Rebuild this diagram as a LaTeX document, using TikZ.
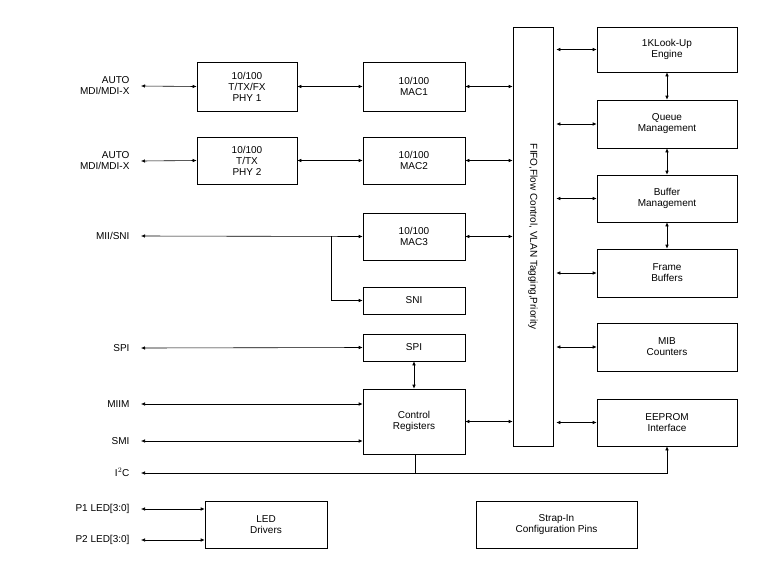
\documentclass[tikz,border=0pt]{standalone}
\usepackage{fontspec}
\setmainfont{Liberation Sans}
\usetikzlibrary{arrows.meta}

\begin{document}
\begin{tikzpicture}[x=1pt, y=-1pt,
  blk/.style={draw, line width=0.6pt, font=\fontsize{10}{11}\selectfont, align=center},
  lbl/.style={font=\fontsize{10}{11}\selectfont, align=right, anchor=east},
  bi/.style={{Latex[length=4pt,width=3.5pt]}-{Latex[length=4pt,width=3.5pt]}, line width=0.6pt},
  one/.style={-{Latex[length=4pt,width=3.5pt]}, line width=0.6pt}]
  \useasboundingbox (0,0) rectangle (781,563);
  % blocks
  \node[blk, minimum width=100pt, minimum height=49pt] (phy1) at (247,86.5) {10/100\\T/TX/FX\\PHY 1};
  \node[blk, minimum width=100pt, minimum height=47pt] (phy2) at (247,160.5) {10/100\\T/TX\\PHY 2};
  \node[blk, minimum width=102pt, minimum height=49pt] (mac1) at (414,86.5) {10/100\\MAC1};
  \node[blk, minimum width=102pt, minimum height=47pt] (mac2) at (414,160.5) {10/100\\MAC2};
  \node[blk, minimum width=102pt, minimum height=47pt] (mac3) at (414,236.5) {10/100\\MAC3};
  \node[blk, minimum width=102pt, minimum height=27pt] (sni) at (414,300.5) {SNI};
  \node[blk, minimum width=102pt, minimum height=27pt] (spi) at (414,347.5) {SPI};
  \node[blk, minimum width=102pt, minimum height=65pt] (ctrl) at (414,421.5) {Control\\Registers};
  \node[blk, minimum width=40pt, minimum height=419pt] (fifo) at (533,236.5) {};
  \node[font=\fontsize{10}{11}\selectfont, rotate=-90] at (fifo) {FIFO,Flow Control, VLAN Tagging,Priority};
  \node[blk, minimum width=140pt, minimum height=45pt] (lookup) at (667,49.5) {1KLook-Up\\Engine};
  \node[blk, minimum width=140pt, minimum height=48pt] (queue) at (667,124) {Queue\\Management};
  \node[blk, minimum width=140pt, minimum height=47pt] (buffer) at (667,198.5) {Buffer\\Management};
  \node[blk, minimum width=140pt, minimum height=48pt] (frame) at (667,273) {Frame\\Buffers};
  \node[blk, minimum width=140pt, minimum height=48pt] (mib) at (667,347) {MIB\\Counters};
  \node[blk, minimum width=140pt, minimum height=47pt] (eeprom) at (667,422.5) {EEPROM\\Interface};
  \node[blk, minimum width=122pt, minimum height=47pt] (led) at (266,524.5) {LED\\Drivers};
  \node[blk, minimum width=161pt, minimum height=47pt] (strap) at (556.5,524.5) {Strap-In\\Configuration Pins};
  % left labels
  \node[lbl] (auto1) at (133,86) {AUTO\\MDI/MDI-X};
  \node[lbl] (auto2) at (133,161) {AUTO\\MDI/MDI-X};
  \node[lbl] (mii) at (133,236) {MII/SNI};
  \node[lbl] (spil) at (133,348) {SPI};
  \node[lbl] (miim) at (133,404) {MIIM};
  \node[lbl] (smi) at (133,441) {SMI};
  \node[lbl] (i2c) at (133,472) {I$^2$C};
  \node[lbl] (p1) at (133,509) {P1 LED[3:0]};
  \node[lbl] (p2) at (133,540) {P2 LED[3:0]};
  \coordinate (br) at (331,236);
  \coordinate (bus) at (415,473);
  \coordinate (i2ce) at (141,473);
  % connectors
  \draw[bi] ([xshift=8pt]auto1.east) -- (phy1.west);
  \draw[bi] ([xshift=8pt]auto2.east) -- (phy2.west);
  \draw[bi] (phy1) -- (mac1);
  \draw[bi] (phy2) -- (mac2);
  \draw[bi] ([xshift=8pt]mii.east) -- (mac3.west);
  \draw[one] (br) |- (sni.west);
  \draw[bi] ([xshift=8pt]spil.east) -- (spi.west);
  \draw[bi] ([xshift=8pt]miim.east) -- (ctrl.west |- miim);
  \draw[bi] ([xshift=8pt]smi.east) -- (ctrl.west |- smi);
  \draw[bi] ([xshift=8pt]p1.east) -- (led.west |- p1);
  \draw[bi] ([xshift=8pt]p2.east) -- (led.west |- p2);
  \draw[bi] (spi) -- (ctrl);
  \draw[bi] (mac1) -- (fifo.west |- mac1);
  \draw[bi] (mac2) -- (fifo.west |- mac2);
  \draw[bi] (mac3) -- (fifo.west |- mac3);
  \draw[bi] (ctrl) -- (fifo.west |- ctrl);
  \foreach \b in {lookup,queue,buffer,frame,mib,eeprom}
    \draw[bi] ([xshift=3pt]fifo.east |- \b) -- (\b.west);
  \draw[bi] (lookup) -- (queue);
  \draw[bi] (queue) -- (buffer);
  \draw[bi] (buffer) -- (frame);
  \draw[line width=0.6pt] (ctrl.south -| bus) -- (bus);
  \draw[one] (bus) -- (i2ce);
  \draw[one] (bus) -| (eeprom.south);
\end{tikzpicture}
\end{document}
